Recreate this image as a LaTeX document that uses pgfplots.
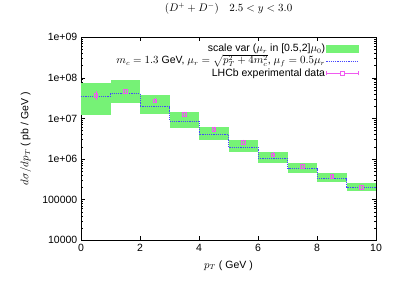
\documentclass[border=0pt]{standalone}
\usepackage{pgfplots}
\pgfplotsset{compat=1.18}
\usepackage{fontspec}
\setmainfont{Liberation Sans}
\definecolor{bandgreen}{RGB}{118,242,118}
\definecolor{lineblue}{RGB}{70,70,255}
\definecolor{datamag}{RGB}{240,90,240}
\begin{document}
\begin{tikzpicture}
\fontsize{10.5}{12}\selectfont
\begin{axis}[
  at={(0,0)}, anchor=south west,
  scale only axis, width=295pt, height=203pt,
  ymode=log, xmin=0, xmax=10, ymin=1e4, ymax=1e9,
  xtick={0,2,4,6,8,10},
  ytick={1e4,1e5,1e6,1e7,1e8,1e9},
  yticklabels={10000,100000,1e+06,1e+07,1e+08,1e+09},
  /pgf/number format/assume math mode=true,
  tick label style={font=\fontsize{10.5}{12}\selectfont},
  major tick length=4pt, minor tick length=2pt,
  tick style={black, line width=0.5pt},
  axis line style={line width=0.7pt},
  title={$(D^+ + D^-)\quad 2.5 < y < 3.0$},
  title style={at={(0.5,1)}, anchor=south, yshift=13pt},
  xlabel={$p_T$ ( GeV )},
  xlabel style={yshift=-2pt},
  ylabel={$d\sigma/dp_T$ ( pb / GeV )},
  ylabel style={yshift=4pt},
  legend style={draw=none, fill=none, at={(1,0.985)}, anchor=north east,
    xshift=-14pt,
    font=\fontsize{10.5}{12}\selectfont, row sep=0.5pt,
    nodes={text height=8pt, text depth=2pt, inner sep=1pt}},
  legend cell align=right,
  legend plot pos=right,
]
% scale variation band, one rectangle per bin
\addplot[fill=bandgreen, draw=none, forget plot] coordinates {(0,1.19e7)(1,1.19e7)(1,7.3e7)(0,7.3e7)} -- cycle;
\addplot[fill=bandgreen, draw=none, forget plot] coordinates {(1,2.35e7)(2,2.35e7)(2,8.8e7)(1,8.8e7)} -- cycle;
\addplot[fill=bandgreen, draw=none, forget plot] coordinates {(2,1.26e7)(3,1.26e7)(3,3.7e7)(2,3.7e7)} -- cycle;
\addplot[fill=bandgreen, draw=none, forget plot] coordinates {(3,5.9e6)(4,5.9e6)(4,1.46e7)(3,1.46e7)} -- cycle;
\addplot[fill=bandgreen, draw=none, forget plot] coordinates {(4,2.9e6)(5,2.9e6)(5,6.25e6)(4,6.25e6)} -- cycle;
\addplot[fill=bandgreen, draw=none, forget plot] coordinates {(5,1.5e6)(6,1.5e6)(6,2.9e6)(5,2.9e6)} -- cycle;
\addplot[fill=bandgreen, draw=none, forget plot] coordinates {(6,8.0e5)(7,8.0e5)(7,1.47e6)(6,1.47e6)} -- cycle;
\addplot[fill=bandgreen, draw=none, forget plot] coordinates {(7,4.6e5)(8,4.6e5)(8,7.9e5)(7,7.9e5)} -- cycle;
\addplot[fill=bandgreen, draw=none, forget plot] coordinates {(8,2.76e5)(9,2.76e5)(9,4.47e5)(8,4.47e5)} -- cycle;
\addplot[fill=bandgreen, draw=none, forget plot] coordinates {(9,1.67e5)(10,1.67e5)(10,2.59e5)(9,2.59e5)} -- cycle;
\addlegendimage{legend image code/.code={\fill[bandgreen] (5pt,-3.5pt) rectangle (37pt,3.5pt);}}
\addlegendentry{scale var ($\mu_r$ in [0.5,2]$\mu_0$)}
% central curve
\addplot[const plot, color=lineblue, dash pattern=on 1.2pt off 1pt, line width=0.7pt,
  forget plot]
  coordinates {(0,3.56e7)(1,4.1e7)(2,1.94e7)(3,8.5e6)(4,4.0e6)(5,1.95e6)(6,1.04e6)(7,5.8e5)(8,3.3e5)(9,2.04e5)(10,2.04e5)};
\addlegendimage{legend image code/.code={\draw[color=lineblue, dash pattern=on 1.2pt off 1pt, line width=0.7pt] (5pt,0pt) -- (37pt,0pt);}}
\addlegendentry{$m_c = 1.3$ GeV, $\mu_r = \smash{\sqrt{p_T^2 + 4m_c^2}}$, $\mu_f = 0.5\mu_r$}
% LHCb data
\addplot[only marks, color=datamag, mark=square, mark size=1.8pt, line width=0.5pt,
  mark options={fill=none, draw=datamag},
  legend image code/.code={
    \draw[datamag, line width=0.5pt] (5pt,0pt) -- (37pt,0pt);
    \draw[datamag, line width=0.5pt] (5pt,-2pt) -- (5pt,2pt);
    \draw[datamag, line width=0.5pt] (37pt,-2pt) -- (37pt,2pt);
    \draw[datamag, line width=0.5pt, fill=white] (19pt,-2pt) rectangle (23pt,2pt);},
  error bars/.cd, y dir=both, y explicit,
  error bar style={datamag, line width=0.5pt},
  error mark options={mark size=1.5pt, datamag}]
  coordinates {
    (0.5,3.7e7) +- (0,6.5e6)
    (1.5,4.6e7) +- (0,3e6)
    (2.5,2.72e7) +- (0,1.5e6)
    (3.5,1.26e7) +- (0,7e5)
    (4.5,5.5e6) +- (0,3e5)
    (5.5,2.63e6) +- (0,1.5e5)
    (6.5,1.28e6) +- (0,7e4)
    (7.5,6.65e5) +- (0,3.5e4)
    (8.5,3.8e5) +- (0,2e4)
    (9.5,2.04e5) +- (0,1.1e4)
  };
\addlegendentry{LHCb experimental data}
\end{axis}
\useasboundingbox (-81pt,-40pt) rectangle (317pt,239pt);
\end{tikzpicture}
\end{document}
